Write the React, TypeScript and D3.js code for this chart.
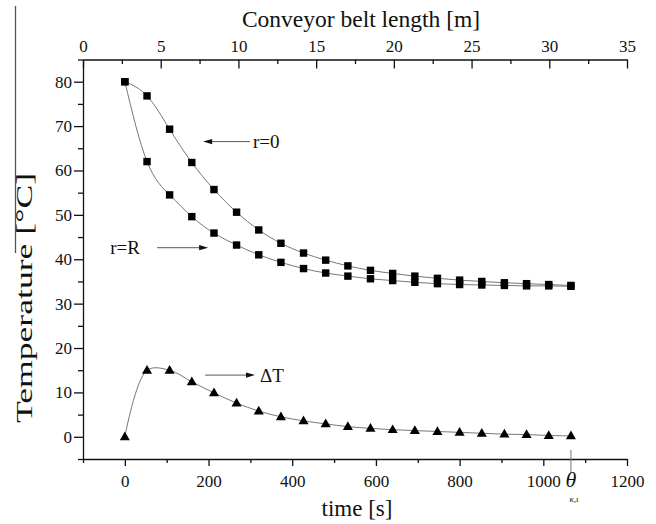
import { useEffect, useRef } from "react";
import * as d3 from "d3";

// time of each sample [s]
const timeS = [0, 53, 107, 160, 213, 267, 320, 373, 427, 480, 533, 587, 640, 693, 747, 800, 853, 907, 960, 1013, 1066];
// temperature at the centre, r=0 [°C]
const tempCentre = [80, 76.8, 69.3, 61.8, 55.7, 50.6, 46.6, 43.6, 41.4, 39.8, 38.5, 37.5, 36.8, 36.2, 35.7, 35.3, 35.0, 34.7, 34.5, 34.3, 34.1];
// temperature at the surface, r=R [°C]
const tempSurface = [80, 62.0, 54.5, 49.6, 45.9, 43.2, 41.0, 39.3, 37.9, 36.9, 36.2, 35.6, 35.2, 34.8, 34.5, 34.3, 34.2, 34.1, 34.0, 34.0, 33.9];
// difference between centre and surface [°C]
const deltaT = [0, 15.0, 15.0, 12.4, 9.9, 7.6, 5.8, 4.5, 3.6, 2.9, 2.3, 1.9, 1.6, 1.4, 1.2, 1.0, 0.8, 0.6, 0.5, 0.3, 0.2];

const timeTicks = [0, 200, 400, 600, 800, 1000, 1200];
const timeMinor = [-100, 100, 300, 500, 700, 900, 1100];
const lengthTicks = [0, 5, 10, 15, 20, 25, 30, 35];
const lengthMinor = [2.5, 7.5, 12.5, 17.5, 22.5, 27.5, 32.5];
const tempTicks = [0, 10, 20, 30, 40, 50, 60, 70, 80];
const tempMinor = [-5, 5, 15, 25, 35, 45, 55, 65, 75, 85];

const W = 656;
const H = 524;
const FONT = "Liberation Serif, Times New Roman, DejaVu Serif, serif";

export default function App() {
  const svgRef = useRef(null);

  useEffect(() => {
    const svg = d3.select(svgRef.current);
    svg.selectAll("*").remove();
    svg.style("font-family", FONT);

    const x = d3.scaleLinear().domain([-100, 1200]).range([83, 627]);
    const xTop = d3.scaleLinear().domain([0, 35]).range([83, 627]);
    const y = d3.scaleLinear().domain([-5, 85]).range([459, 59.5]);
    const fmt = d3.format("d");

    const styleAxis = (g) => {
      g.attr("font-family", null).style("font-family", FONT).attr("font-size", 17);
      g.selectAll("path, line").attr("stroke", "#111").attr("stroke-width", 1.3);
      g.selectAll("text").attr("fill", "#111").style("font-family", FONT);
    };

    // bottom axis (time)
    svg.append("g")
      .attr("transform", `translate(0,459)`)
      .call(d3.axisBottom(x).tickValues(timeTicks).tickFormat(fmt).tickSize(7).tickSizeOuter(0).tickPadding(9))
      .call(styleAxis);
    svg.append("g")
      .attr("transform", `translate(0,459)`)
      .call(d3.axisBottom(x).tickValues(timeMinor).tickSize(4).tickFormat(() => ""))
      .call((g) => g.select(".domain").remove())
      .call(styleAxis);

    // left axis (temperature)
    svg.append("g")
      .attr("transform", `translate(83,0)`)
      .call(d3.axisLeft(y).tickValues(tempTicks).tickFormat(fmt).tickSize(9).tickSizeOuter(0).tickPadding(2))
      .call(styleAxis);
    svg.append("g")
      .attr("transform", `translate(83,0)`)
      .call(d3.axisLeft(y).tickValues(tempMinor).tickSize(5).tickFormat(() => ""))
      .call((g) => g.select(".domain").remove())
      .call(styleAxis);

    // top axis (belt length), ticks pointing inward
    svg.append("g")
      .attr("transform", `translate(0,59.5)`)
      .call(d3.axisTop(xTop).tickValues(lengthTicks).tickFormat(fmt).tickSize(-9).tickSizeOuter(0).tickPadding(7.5))
      .call(styleAxis);
    svg.append("g")
      .attr("transform", `translate(0,59.5)`)
      .call(d3.axisTop(xTop).tickValues(lengthMinor).tickSize(-4.5).tickFormat(() => ""))
      .call((g) => g.select(".domain").remove())
      .call(styleAxis);

    const label = (txt, size) =>
      svg.append("text")
        .style("font-family", FONT)
        .attr("font-size", size)
        .attr("fill", "#111")
        .text(txt);

    // axis titles
    label("Conveyor belt length [m]", 23.5)
      .attr("x", 361).attr("y", 27)
      .attr("text-anchor", "middle");
    label("time [s]", 23)
      .attr("x", 357).attr("y", 516)
      .attr("text-anchor", "middle");
    label("Temperature [°C]", 24)
      .attr("transform", "translate(32,298) rotate(-90)")
      .attr("text-anchor", "middle")
      .attr("textLength", 250).attr("lengthAdjust", "spacingAndGlyphs");

    // stray rule left of the y title
    svg.append("line")
      .attr("x1", 15.5).attr("x2", 15.5).attr("y1", 6).attr("y2", 253)
      .attr("stroke", "#555").attr("stroke-width", 1.3);

    // curves
    const mkLine = (curve) =>
      d3.line()
        .x((d) => x(d[0]))
        .y((d) => y(d[1]))
        .curve(curve);
    const series = [
      [tempCentre, d3.curveNatural],
      [tempSurface, d3.curveNatural],
      [deltaT, d3.curveCatmullRom.alpha(0.5)],
    ];
    series.forEach(([vals, curve]) => {
      svg.append("path")
        .attr("d", mkLine(curve)(timeS.map((t, i) => [t, vals[i]])))
        .attr("fill", "none")
        .attr("stroke", "#777")
        .attr("stroke-width", 1);
    });

    // square markers
    [tempCentre, tempSurface].forEach((vals) => {
      svg.append("g")
        .selectAll("rect")
        .data(timeS.map((t, i) => [t, vals[i]]))
        .join("rect")
        .attr("x", (d) => x(d[0]) - 3.7)
        .attr("y", (d) => y(d[1]) - 3.7)
        .attr("width", 7.4)
        .attr("height", 7.4)
        .attr("fill", "#000");
    });

    // triangle markers
    const tri = d3.symbol().type(d3.symbolTriangle).size(44);
    svg.append("g")
      .selectAll("path")
      .data(timeS.map((t, i) => [t, deltaT[i]]))
      .join("path")
      .attr("transform", (d) => `translate(${x(d[0])},${y(d[1]) + 0.5})`)
      .attr("d", tri())
      .attr("fill", "#000");

    // annotations with arrows
    const arrow = (t1, t2, v, txt, tx) => {
      const x1 = x(t1), x2 = x(t2), yy = y(v);
      const dir = x2 > x1 ? 1 : -1;
      svg.append("line")
        .attr("x1", x1).attr("x2", x2 - dir * 6).attr("y1", yy).attr("y2", yy)
        .attr("stroke", "#444").attr("stroke-width", 0.9);
      svg.append("path")
        .attr("d", `M${x2},${yy} L${x2 - dir * 9},${yy - 2.6} L${x2 - dir * 9},${yy + 2.6} Z`)
        .attr("fill", "#111");
      label(txt, 19).attr("x", x(tx)).attr("y", yy + 6.5);
    };
    arrow(299, 187, 66.5, "r=0", 306);
    arrow(77, 199, 42.6, "r=R", -35);
    arrow(192, 311, 13.9, "\u0394T", 323);

    // theta marker at the end of the conveyor
    const xe = x(timeS[timeS.length - 1]);
    svg.append("line")
      .attr("x1", xe).attr("x2", xe).attr("y1", 450).attr("y2", 473)
      .attr("stroke", "#777").attr("stroke-width", 1);
    label("\u03b8", 22)
      .attr("x", xe).attr("y", 487)
      .attr("text-anchor", "middle")
      .attr("font-style", "italic");
    label("\u03ba,\u03b9", 9)
      .attr("x", xe + 3).attr("y", 502)
      .attr("text-anchor", "middle")
      .attr("font-style", "italic");
  }, []);

  return (
    <svg
      ref={svgRef}
      width={W}
      height={H}
      style={{ position: "absolute", left: 0, top: 0, background: "#fff" }}
    />
  );
}
